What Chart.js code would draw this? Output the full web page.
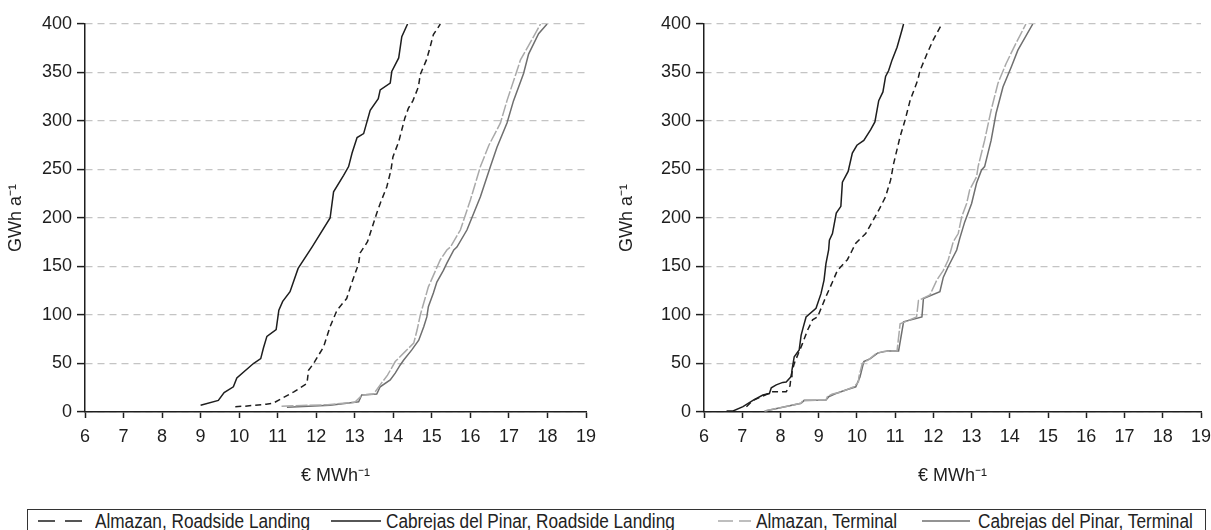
<!DOCTYPE html>
<html>
<head>
<meta charset="utf-8">
<script src="https://cdn.jsdelivr.net/npm/chart.js@4.4.1/dist/chart.umd.min.js"></script>
<style>
  html, body { margin: 0; padding: 0; background: #fff; overflow: hidden; width: 1211px; height: 530px; }
  .panel { position: absolute; top: 0; }
  #left { left: 0; }
  #right { left: 605px; }
  #legend {
    position: absolute; left: 27px; top: 509px; width: 1179px; height: 24px;
    border: 1px solid #333; box-sizing: border-box;
    font-family: "Liberation Sans", Arial, sans-serif; font-size: 20px; color: #222;
  }
  .item { position: absolute; top: 0; line-height: 22px; white-space: nowrap; transform: scaleX(0.86); transform-origin: 0 0; }
  .swatch { position: absolute; }
</style>
</head>
<body>
<canvas id="left" class="panel" width="605" height="500"></canvas>
<canvas id="right" class="panel" width="616" height="500"></canvas>
<div id="legend"></div>
<script>
// series names, in legend order
const seriesNames = ['Almazan, Roadside Landing', 'Cabrejas del Pinar, Roadside Landing', 'Almazan, Terminal', 'Cabrejas del Pinar, Terminal'];

// left panel: price (€/MWh) and cumulative supply (GWh/a)
const leftAlmRoadPrice = [9.90, 10.15, 10.40, 10.70, 10.88, 11.43, 11.76, 11.80, 11.93, 12.19, 12.36, 12.54, 12.79, 12.93, 13.10, 13.14, 13.33, 13.57, 13.66, 13.83, 13.94, 13.99, 14.14, 14.30, 14.39, 14.51, 14.65, 14.70, 14.86, 14.94, 15.04, 15.22];
const leftAlmRoadGwh   = [5.5, 6, 7, 8, 9, 21, 29.5, 43, 50, 67, 88, 105, 117, 134, 153, 164, 175.5, 205, 215, 232, 249.5, 263, 278.6, 303, 313, 321, 335, 348, 363, 374, 389, 400];

const leftCabRoadPrice = [9.00, 9.46, 9.61, 9.85, 9.94, 10.37, 10.56, 10.63, 10.72, 10.96, 11.03, 11.13, 11.32, 11.53, 11.89, 12.36, 12.45, 12.71, 12.84, 12.93, 13.06, 13.23, 13.40, 13.61, 13.66, 13.92, 13.96, 14.14, 14.22, 14.37];
const leftCabRoadGwh   = [7, 12, 20, 26, 35, 50, 55, 66, 78, 85, 105, 114, 124, 148, 170, 200, 227, 244, 253, 267, 283, 287, 311, 323, 332, 339, 351, 365, 387, 400];

const leftAlmTermPrice = [11.10, 12.30, 13.00, 13.19, 13.49, 13.66, 13.85, 14.05, 14.30, 14.53, 14.62, 14.70, 14.91, 15.22, 15.39, 15.48, 15.74, 16.00, 16.26, 16.48, 16.78, 16.95, 17.21, 17.30, 17.64, 17.82];
const leftAlmTermGwh   = [6, 7.5, 10, 17.5, 18.6, 28, 38, 52, 62, 71, 85, 100, 129, 157, 167, 170, 187.6, 218.6, 253, 275, 298, 321, 352, 363, 387, 400];

const leftCabTermPrice = [11.24, 12.36, 13.10, 13.18, 13.57, 13.66, 13.92, 14.05, 14.18, 14.27, 14.48, 14.66, 14.79, 14.87, 14.91, 15.04, 15.13, 15.30, 15.39, 15.57, 15.65, 15.91, 16.26, 16.52, 16.69, 16.95, 17.12, 17.38, 17.51, 17.77, 17.99];
const leftCabTermGwh   = [5, 7, 10.6, 17.5, 18.6, 26, 33, 40, 48.5, 53.6, 64, 74, 88, 98, 108.5, 122.6, 134, 146, 153.5, 167, 170, 187.6, 222, 253, 273, 298, 321, 349, 369, 390, 400];

// right panel
const rightAlmRoadPrice = [7.11, 7.28, 7.80, 8.15, 8.25, 8.28, 8.36, 8.58, 8.71, 8.84, 8.97, 9.19, 9.36, 9.49, 9.75, 9.88, 9.97, 10.23, 10.57, 10.75, 10.88, 10.96, 11.13, 11.26, 11.39, 11.59, 11.65, 11.83, 12.00, 12.22];
const rightAlmRoadGwh   = [5.5, 12, 21, 21, 27, 38, 50, 71, 84.5, 95, 98, 119, 134, 146, 157, 167, 174, 184, 208, 222, 239, 256, 284, 301, 321, 342, 352, 369, 384, 400];

const rightCabRoadPrice = [6.59, 6.76, 7.02, 7.28, 7.54, 7.71, 7.76, 7.89, 8.06, 8.15, 8.28, 8.30, 8.36, 8.49, 8.54, 8.60, 8.67, 8.93, 9.06, 9.14, 9.19, 9.26, 9.28, 9.36, 9.46, 9.58, 9.62, 9.77, 9.88, 10.00, 10.18, 10.36, 10.47, 10.57, 10.68, 10.75, 10.83, 10.92, 11.05, 11.18, 11.22];
const rightCabRoadGwh   = [1, 1, 5.5, 12, 17.5, 19, 25, 28, 30.5, 31, 36.5, 43, 57, 64, 79, 88, 98, 107, 122, 136, 153, 167, 177, 184, 205, 212, 237, 248, 267, 275, 280, 291, 299, 321, 330, 346, 352, 363, 376, 394, 400];

const rightAlmTermPrice = [7.58, 8.54, 8.58, 9.19, 9.23, 9.36, 9.54, 9.71, 9.92, 10.04, 10.05, 10.14, 10.31, 10.49, 10.70, 11.05, 11.13, 11.26, 11.56, 11.61, 11.91, 12.09, 12.26, 12.39, 12.52, 12.65, 12.74, 12.87, 12.95, 13.13, 13.17, 13.34, 13.51, 13.69, 13.90, 14.12, 14.42];
const rightAlmTermGwh   = [1, 9, 11.6, 12.4, 16, 18.6, 20, 22.6, 26, 31, 36, 50, 54, 60, 62.5, 63, 91, 93, 98, 115, 120.6, 136, 146, 157, 175.5, 184, 201, 215, 229, 242.6, 253, 280, 311, 339, 359, 377, 400];

const rightCabTermPrice = [7.60, 8.54, 8.62, 9.19, 9.27, 9.45, 9.71, 9.97, 10.08, 10.18, 10.35, 10.55, 10.80, 11.09, 11.22, 11.70, 11.74, 12.17, 12.26, 12.39, 12.61, 12.69, 12.82, 13.00, 13.13, 13.26, 13.34, 13.51, 13.64, 13.82, 14.04, 14.21, 14.60];
const rightCabTermGwh   = [1, 9, 12, 12.4, 16, 19, 22.6, 26, 36, 52, 55, 61, 63, 63, 93, 98, 117, 124, 139, 150, 167, 179, 196, 215, 236, 249.5, 253, 280, 308, 335, 356, 373, 400];

const xTicksMin = 6, xTicksMax = 19;
const yTicksMin = 0, yTicksMax = 400, yStep = 50;

const FONT = '"Liberation Sans", Arial, sans-serif';
const INK = '#1e1e1e';

// line styles per series (legend order)
const styles = [
  { color: INK, dash: [6, 4] },
  { color: INK, dash: [] },
  { color: '#a9a9a9', dash: [12, 2] },
  { color: '#6f6f6f', dash: [] }
];

function pts(xs, ys) {
  return xs.map((x, i) => ({ x: x, y: ys[i] }));
}

function makeDatasets(groups) {
  return groups.map((g, i) => ({
    label: seriesNames[i],
    data: pts(g[0], g[1]),
    borderColor: styles[i].color,
    borderDash: styles[i].dash,
    borderWidth: 1.5,
    pointRadius: 0,
    tension: 0,
    fill: false
  }));
}

function makeOptions(axisWidth, titlePad, rightPad) {
  return {
    responsive: false,
    animation: false,
    layout: { padding: { top: 24, right: rightPad, bottom: 0, left: 0 } },
    plugins: { legend: { display: false }, tooltip: { enabled: false } },
    scales: {
      x: {
        type: 'linear',
        min: xTicksMin,
        max: xTicksMax,
        ticks: { stepSize: 1, color: INK, font: { family: FONT, size: 18 }, padding: 8, maxRotation: 0 },
        grid: { drawOnChartArea: false, drawTicks: true, tickLength: 6, tickColor: INK, tickWidth: 1.5 },
        border: { color: INK, width: 1.5 },
        title: { display: true, text: '€ MWh⁻¹', color: INK, font: { family: FONT, size: 18 }, padding: { top: 0, bottom: 13 } },
        afterFit: s => { s.height = 88; }
      },
      y: {
        min: yTicksMin,
        max: yTicksMax,
        ticks: { stepSize: yStep, color: INK, font: { family: FONT, size: 18 }, padding: 5 },
        grid: { color: '#c4c4c4', lineWidth: 1.2, tickLength: 8, tickColor: INK, tickWidth: 1.5 },
        border: { color: INK, width: 1.5, dash: [7, 5] },
        title: { display: true, text: 'GWh a⁻¹', color: INK, font: { family: FONT, size: 18 }, padding: { top: titlePad, bottom: 0 } },
        afterFit: s => { s.width = axisWidth; }
      }
    }
  };
}

new Chart(document.getElementById('left'), {
  type: 'line',
  data: {
    datasets: makeDatasets([
      [leftAlmRoadPrice, leftAlmRoadGwh],
      [leftCabRoadPrice, leftCabRoadGwh],
      [leftAlmTermPrice, leftAlmTermGwh],
      [leftCabTermPrice, leftCabTermGwh]
    ])
  },
  options: makeOptions(85, 5, 19)
});

new Chart(document.getElementById('right'), {
  type: 'line',
  data: {
    datasets: makeDatasets([
      [rightAlmRoadPrice, rightAlmRoadGwh],
      [rightCabRoadPrice, rightCabRoadGwh],
      [rightAlmTermPrice, rightAlmTermGwh],
      [rightCabTermPrice, rightCabTermGwh]
    ])
  },
  options: makeOptions(99, 11, 20)
});

// shared legend box under both panels
const legendPos = [
  { swatch: 10, width: 44, text: 67, dash: '17 10' },
  { swatch: 303, width: 50, text: 358, dash: '' },
  { swatch: 690, width: 33, text: 728, dash: '15 6' },
  { swatch: 894, width: 48, text: 950, dash: '' }
];
const legend = document.getElementById('legend');
legendPos.forEach((p, i) => {
  const svg = document.createElementNS('http://www.w3.org/2000/svg', 'svg');
  svg.setAttribute('class', 'swatch');
  svg.setAttribute('width', p.width);
  svg.setAttribute('height', 4);
  svg.style.left = p.swatch + 'px';
  svg.style.top = '9px';
  const line = document.createElementNS('http://www.w3.org/2000/svg', 'line');
  line.setAttribute('x1', 0); line.setAttribute('y1', 2);
  line.setAttribute('x2', p.width); line.setAttribute('y2', 2);
  line.setAttribute('stroke', styles[i].color);
  line.setAttribute('stroke-width', 1.6);
  if (p.dash) line.setAttribute('stroke-dasharray', p.dash);
  svg.appendChild(line);
  legend.appendChild(svg);
  const span = document.createElement('span');
  span.className = 'item';
  span.style.left = p.text + 'px';
  span.textContent = seriesNames[i];
  legend.appendChild(span);
});
</script>
</body>
</html>
